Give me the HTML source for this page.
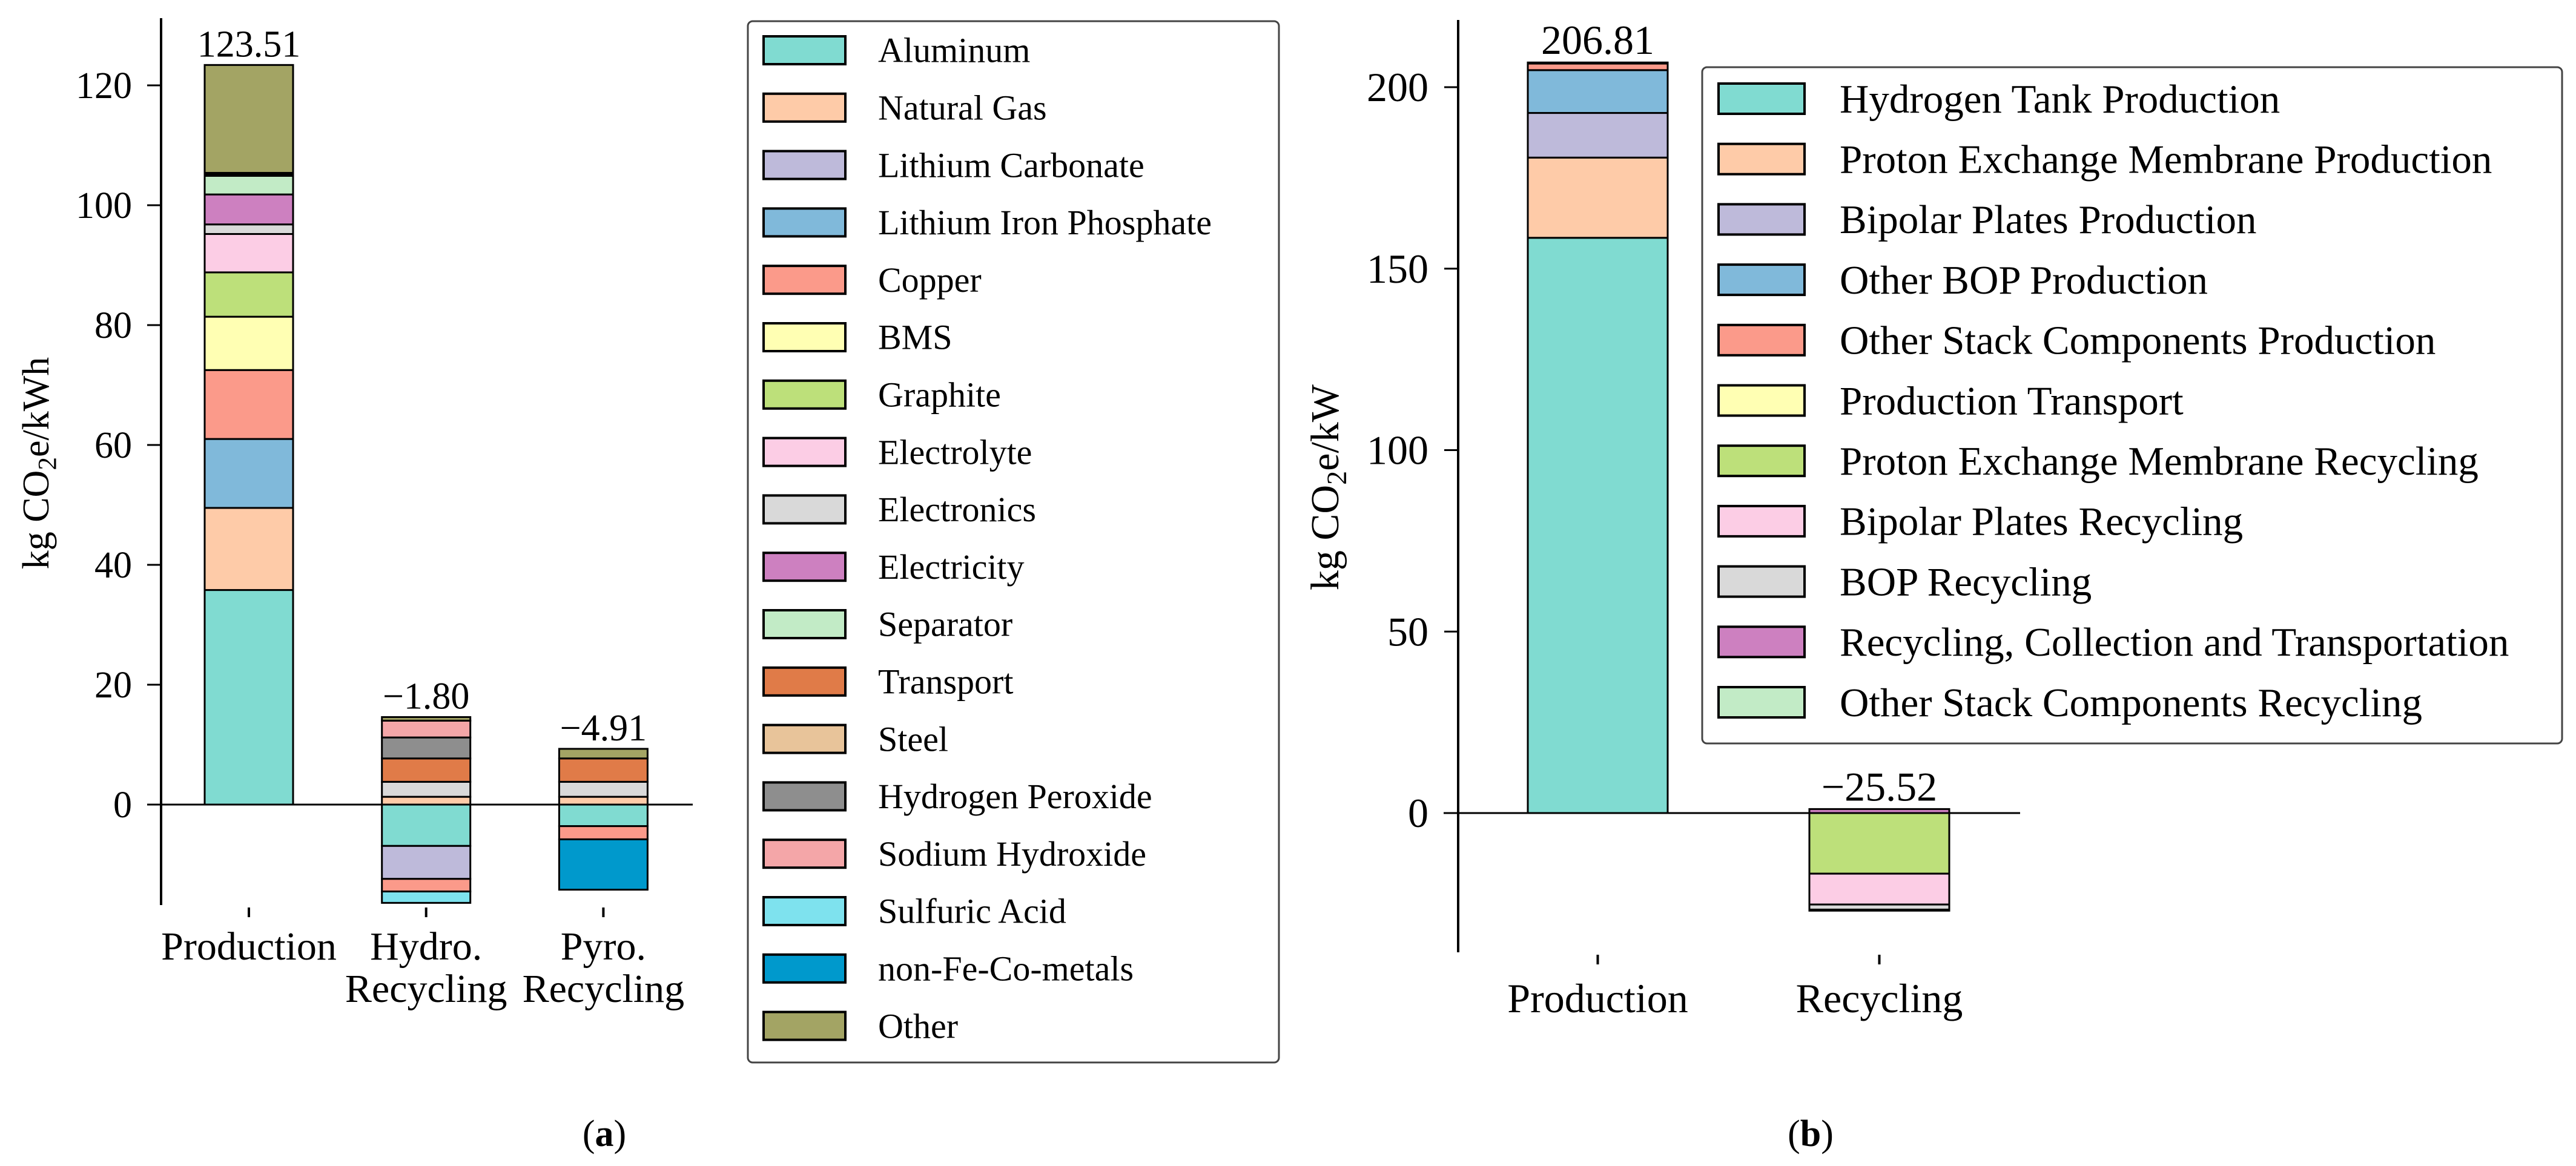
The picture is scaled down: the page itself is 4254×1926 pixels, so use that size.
<!DOCTYPE html>
<html><head><meta charset="utf-8"><style>
html,body{margin:0;padding:0;background:#fff;}
svg{display:block;font-family:"Liberation Serif","DejaVu Serif",serif;}
</style></head><body>
<svg id="fig" width="4254" height="1926" viewBox="0 0 4254 1926" xmlns="http://www.w3.org/2000/svg">
<g id="left"></g>
<g id="right"></g>
<text x="998" y="1893" font-size="62" text-anchor="middle">(<tspan font-weight="bold">a</tspan>)</text>
<text x="2990" y="1893" font-size="62" text-anchor="middle">(<tspan font-weight="bold">b</tspan>)</text>
</svg>
<script>
// ---- Chart (a) data ----
const catsA = ["Production", "Hydro.|Recycling", "Pyro.|Recycling"];
const totalsA = ["123.51", "\u22121.80", "\u22124.91"];
const seriesNamesA = ["Aluminum","Natural Gas","Lithium Carbonate","Lithium Iron Phosphate","Copper","BMS","Graphite","Electrolyte","Electronics","Electricity","Separator","Transport","Steel","Hydrogen Peroxide","Sodium Hydroxide","Sulfuric Acid","non-Fe-Co-metals","Other"];
const colorsA = ["#80dbd1","#fecba8","#bebada","#80b9da","#fb9a8a","#ffffb3","#bde07a","#fccde5","#d9d9d9","#cd80c0","#c2ebc6","#e07b48","#e8c49a","#8e8e8e","#f4a6a8","#7ee2ee","#0099cc","#a3a464"];
const aluminumA = [35.8, -6.9, -3.6];
const naturalGasA = [13.7, 1.3, 1.3];
const lithiumCarbonateA = [0, -5.5, 0];
const lfpA = [11.5, 0, 0];
const copperA = [11.5, -2.1, -2.2];
const bmsA = [8.9, 0, 0];
const graphiteA = [7.4, 0, 0];
const electrolyteA = [6.4, 0, 0];
const electronicsA = [1.6, 2.5, 2.5];
const electricityA = [5.0, 0, 0];
const separatorA = [3.1, 0, 0];
const transportA = [0.3, 3.9, 3.9];
const steelA = [0.2, 0, 0];
const h2o2A = [0, 3.5, 0];
const naohA = [0, 2.8, 0];
const sulfuricA = [0, -1.9, 0];
const nonFeA = [0, 0, -8.4];
const otherA = [18.0, 0.6, 1.6];
const valuesA = [aluminumA,naturalGasA,lithiumCarbonateA,lfpA,copperA,bmsA,graphiteA,electrolyteA,electronicsA,electricityA,separatorA,transportA,steelA,h2o2A,naohA,sulfuricA,nonFeA,otherA];
const ticksA = [0,20,40,60,80,100,120];

// ---- Chart (b) data ----
const catsB = ["Production", "Recycling"];
const totalsB = ["206.81", "\u221225.52"];
const seriesNamesB = ["Hydrogen Tank Production","Proton Exchange Membrane Production","Bipolar Plates Production","Other BOP Production","Other Stack Components Production","Production Transport","Proton Exchange Membrane Recycling","Bipolar Plates Recycling","BOP Recycling","Recycling, Collection and Transportation","Other Stack Components Recycling"];
const colorsB = ["#80dbd1","#fecba8","#bebada","#80b9da","#fb9a8a","#ffffb3","#bde07a","#fccde5","#d9d9d9","#cd80c0","#c2ebc6"];
const h2TankB = [158.5, 0];
const pemProdB = [22.1, 0];
const bipolarProdB = [12.3, 0];
const bopProdB = [11.8, 0];
const stackProdB = [1.8, 0];
const transportB = [0.3, 0];
const pemRecB = [0, -16.7];
const bipolarRecB = [0, -8.5];
const bopRecB = [0, -1.4];
const collectionB = [0, 1.1];
const stackRecB = [0, -0.3];
const valuesB = [h2TankB,pemProdB,bipolarProdB,bopProdB,stackProdB,transportB,pemRecB,bipolarRecB,bopRecB,collectionB,stackRecB];
const ticksB = [0,50,100,150,200];

const NS = "http://www.w3.org/2000/svg";
function mk(parent, tag, attrs, text) {
  const e = document.createElementNS(NS, tag);
  for (const k in attrs) e.setAttribute(k, attrs[k]);
  if (text !== undefined) e.textContent = text;
  parent.appendChild(e);
  return e;
}

function drawChart(g, cfg) {
  const y = v => cfg.y0 - v * cfg.pxPer;
  const x = i => cfg.xc0 + i * cfg.xStep;
  const sp = mk(g, "line", {x1:cfg.axX, x2:cfg.axX, y1:cfg.axTop, y2:cfg.axBot, stroke:"#000", "stroke-width":4});
  
  
  cfg.ticks.forEach(t => {
    const tm = mk(g, "line", {x1:cfg.axX-23, x2:cfg.axX, y1:y(t), y2:y(t), stroke:"#000", "stroke-width":3});
    
    
    const tl = mk(g, "text", {x:cfg.tickLabX, y:y(t)+cfg.fs*0.34, "font-size":cfg.fs, "text-anchor":"end"}, String(t));
    
    
  });
  const yl = mk(g, "text", {x:0, y:0, "font-size":cfg.ylFs, "text-anchor":"middle", transform:`translate(${cfg.ylX},${cfg.ylY}) rotate(-90)`});
  
  
  yl.appendChild(document.createTextNode("kg CO"));
  mk(yl, "tspan", {"font-size":cfg.ylFs*0.7, dy:cfg.ylFs*0.2}, "2");
  mk(yl, "tspan", {dy:-cfg.ylFs*0.2}, "e/" + cfg.unit);
  cfg.cats.forEach((c, i) => {
    let pos = 0, neg = 0;
    cfg.values.forEach((arr, s) => {
      const v = arr[i];
      if (!v) return;
      let a, b;
      if (v > 0) { a = pos; b = pos + v; pos = b; } else { a = neg; b = neg + v; neg = b; }
      const top = y(Math.max(a, b)), bot = y(Math.min(a, b));
      const r = mk(g, "rect", {x:x(i)-cfg.bw/2, y:top, width:cfg.bw, height:Math.max(bot-top,0.5), fill:cfg.colors[s], stroke:"#000", "stroke-width":3});
      
      
    });
    const tv = mk(g, "text", {x:x(i), y:y(pos)-14, "font-size":cfg.fs, "text-anchor":"middle"}, cfg.totals[i]);
    
    
    const tk = mk(g, "line", {x1:x(i), x2:x(i), y1:cfg.axBot+4, y2:cfg.axBot+20, stroke:"#000", "stroke-width":4});
    
    
    c.split("|").forEach((ln, k) => {
      const cl = mk(g, "text", {x:x(i), y:cfg.catY + k*70, "font-size":cfg.catFs, "text-anchor":"middle"}, ln);
      
      
    });
  });
  const zl = mk(g, "line", {x1:cfg.zX1, x2:cfg.zX2, y1:y(0), y2:y(0), stroke:"#000", "stroke-width":3});
  
  
  const L = cfg.leg;
  const lb = mk(g, "rect", {x:L.x, y:L.y, width:L.w, height:L.h, rx:8, fill:"#fff", stroke:"#444", "stroke-width":3});
  
  
  cfg.names.forEach((n, s) => {
    const cy = L.first + s * L.step;
    const p = mk(g, "rect", {x:L.px, y:cy-L.ph/2, width:L.pw, height:L.ph, fill:cfg.colors[s], stroke:"#000", "stroke-width":4});
    
    
    const t = mk(g, "text", {x:L.tx, y:cy+L.fs*0.34, "font-size":L.fs}, n);
    
    
  });
}

drawChart(document.getElementById("left"), {
  cats:catsA, totals:totalsA, values:valuesA, colors:colorsA, names:seriesNamesA, ticks:ticksA,
  y0:1329, pxPer:9.9, xc0:411, xStep:292.7, bw:146,
  axX:266, axTop:30, axBot:1495, tickLabX:218, fs:62, catFs:66, ylFs:62, ylX:80, ylY:765, unit:"kWh",
  catY:1585, zX1:243, zX2:1144,
  leg:{x:1235, y:35, w:877, h:1720, first:83, step:94.8, px:1261, pw:135, ph:46, tx:1450, fs:58}
});
drawChart(document.getElementById("right"), {
  cats:catsB, totals:totalsB, values:valuesB, colors:colorsB, names:seriesNamesB, ticks:ticksB,
  y0:1343, pxPer:5.995, xc0:2638.5, xStep:465, bw:231,
  axX:2408, axTop:33, axBot:1573, tickLabX:2359, fs:68, catFs:68, ylFs:66, ylX:2210, ylY:805, unit:"kW",
  catY:1672, zX1:2384, zX2:3336,
  leg:{x:2811, y:111, w:1420, h:1117, first:163, step:99.7, px:2838, pw:142, ph:50, tx:3038, fs:67}
});
</script>
</body></html>
